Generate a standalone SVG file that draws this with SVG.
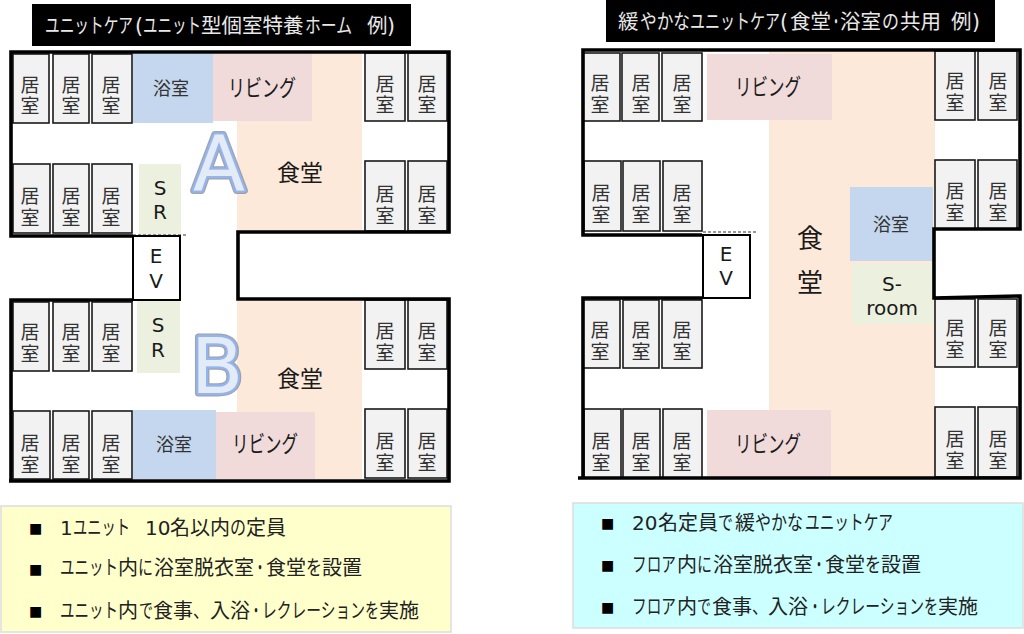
<svg xmlns="http://www.w3.org/2000/svg" width="1024" height="634" viewBox="0 0 1024 634">
<style>
text{font-family:"DejaVu Sans","Noto Sans CJK JP",sans-serif;fill:#1a1a1a;text-anchor:middle}
.room rect{fill:#f2f2f2;stroke:#1a1a1a;stroke-width:1.6}
.room text{font-size:19px;fill:#333}
.title text{fill:#e8e8e8;font-size:20.5px;text-anchor:start}
.bath{fill:#c5d7ee}.living{fill:#f0dada}.dining{fill:#fde9d9}.sr{fill:#ebf1de}
.l21{font-size:23px}.l18{font-size:18px;fill:#333}.l23{font-size:23px}.l20{font-size:20px}.l26{font-size:26px}
.wall{fill:none;stroke:#000;stroke-width:3.6;stroke-linejoin:miter}
.ev{fill:#fff;stroke:#000;stroke-width:2}
.dash{stroke:#333;stroke-width:1.2;stroke-dasharray:3 2;fill:none}
.list text{font-size:20px;text-anchor:start;fill:#222}
.list .b{font-size:14px;fill:#000}
.big{font-family:"DejaVu Sans",sans-serif;font-size:76px;stroke-linejoin:round;paint-order:stroke}
.big1{fill:none;stroke:#8a8f98;stroke-width:7;opacity:.8}
.big2{fill:#e3ebf7;stroke:#93b4ef;stroke-width:4.5}
</style>
<rect width="1024" height="634" fill="#fff"/>

<g id="title-left" class="title"><rect x="32" y="4" width="379" height="42" fill="#000"/><text x="45" y="33"><tspan textLength="88" lengthAdjust="spacingAndGlyphs">ユニットケア</tspan><tspan x="135">(</tspan><tspan x="143" textLength="58" lengthAdjust="spacingAndGlyphs">ユニット</tspan><tspan x="201">型個室特養</tspan><tspan x="305" textLength="47" lengthAdjust="spacingAndGlyphs">ホーム</tspan><tspan x="367">例</tspan><tspan x="387">)</tspan></text></g>
<g id="title-right" class="title"><rect x="606" y="0" width="389" height="42" fill="#000"/><text x="618" y="29">緩<tspan x="640" textLength="50" lengthAdjust="spacingAndGlyphs">やかな</tspan><tspan x="690" textLength="90" lengthAdjust="spacingAndGlyphs">ユニットケア</tspan><tspan x="780">(</tspan><tspan x="790">食堂</tspan><tspan x="831" textLength="10" lengthAdjust="spacingAndGlyphs">・</tspan><tspan x="840">浴室</tspan><tspan x="882" textLength="17" lengthAdjust="spacingAndGlyphs">の</tspan><tspan x="900">共用</tspan><tspan x="951">例</tspan><tspan x="972">)</tspan></text></g>

<!-- left plan zones -->
<g id="left-a-dining"><rect class="dining" x="237" y="54" width="125" height="177"/><text class="l23" x="300" y="181">食堂</text></g>
<g id="left-a-bath"><rect class="bath" x="133" y="54" width="80" height="69"/><text class="l18" x="171" y="95">浴室</text></g>
<g id="left-a-living"><rect class="living" x="213" y="54" width="99" height="67"/><text class="l21" x="262" y="96" textLength="68" lengthAdjust="spacingAndGlyphs">リビング</text></g>
<g id="left-a-sr"><rect class="sr" x="139" y="164" width="42" height="71"/><text class="l20" x="160" y="195">S</text><text class="l20" x="160" y="219">R</text></g>
<g id="left-b-dining"><rect class="dining" x="237" y="301" width="125" height="178"/><text class="l23" x="300" y="387">食堂</text></g>
<g id="left-b-bath"><rect class="bath" x="133" y="410" width="83" height="69"/><text class="l18" x="174" y="451">浴室</text></g>
<g id="left-b-living"><rect class="living" x="216" y="412" width="99" height="67"/><text class="l21" x="265" y="452" textLength="66" lengthAdjust="spacingAndGlyphs">リビング</text></g>
<g id="left-b-sr"><rect class="sr" x="137" y="300" width="43" height="73"/><text class="l20" x="158" y="332">S</text><text class="l20" x="158" y="357">R</text></g>

<!-- right plan zones -->
<g id="right-dining"><rect class="dining" x="769" y="52" width="166" height="425"/><text class="l26" x="810" y="248">食</text><text class="l26" x="810" y="292">堂</text></g>
<g id="right-living-top"><rect class="living" x="707" y="54" width="125" height="66"/><text class="l21" x="768" y="95" textLength="66" lengthAdjust="spacingAndGlyphs">リビング</text></g>
<g id="right-living-bottom"><rect class="living" x="707" y="410" width="124" height="67"/><text class="l21" x="768" y="452" textLength="66" lengthAdjust="spacingAndGlyphs">リビング</text></g>
<g id="right-bath"><rect class="bath" x="850" y="187" width="83" height="74"/><text class="l18" x="891" y="231">浴室</text></g>
<g id="right-sroom"><rect class="sr" x="852" y="264" width="81" height="60"/><text class="l20" x="892" y="291">S-</text><text class="l20" x="892" y="315">room</text></g>

<!-- rooms, left plan -->
<g id="la1" class="room"><rect x="13" y="54" width="36" height="69"/><text x="30" y="92">居<tspan x="30" dy="21">室</tspan></text></g>
<g id="la2" class="room"><rect x="53" y="54" width="36" height="69"/><text x="71" y="92">居<tspan x="71" dy="21">室</tspan></text></g>
<g id="la3" class="room"><rect x="92" y="54" width="40" height="69"/><text x="111" y="92">居<tspan x="111" dy="21">室</tspan></text></g>
<g id="la4" class="room"><rect x="365" y="53" width="40" height="68"/><text x="385" y="91">居<tspan x="385" dy="21">室</tspan></text></g>
<g id="la5" class="room"><rect x="408" y="53" width="39" height="68"/><text x="427" y="91">居<tspan x="427" dy="21">室</tspan></text></g>
<g id="la6" class="room"><rect x="13" y="164" width="37" height="69"/><text x="30" y="203">居<tspan x="30" dy="22">室</tspan></text></g>
<g id="la7" class="room"><rect x="53" y="164" width="36" height="69"/><text x="71" y="203">居<tspan x="71" dy="22">室</tspan></text></g>
<g id="la8" class="room"><rect x="92" y="164" width="40" height="69"/><text x="111" y="203">居<tspan x="111" dy="22">室</tspan></text></g>
<g id="la9" class="room"><rect x="365" y="161" width="40" height="70"/><text x="385" y="201">居<tspan x="385" dy="22">室</tspan></text></g>
<g id="la10" class="room"><rect x="408" y="161" width="39" height="70"/><text x="427" y="201">居<tspan x="427" dy="22">室</tspan></text></g>
<g id="lb1" class="room"><rect x="13" y="302" width="36" height="69"/><text x="30" y="339">居<tspan x="30" dy="22">室</tspan></text></g>
<g id="lb2" class="room"><rect x="53" y="302" width="36" height="69"/><text x="71" y="339">居<tspan x="71" dy="22">室</tspan></text></g>
<g id="lb3" class="room"><rect x="92" y="302" width="40" height="69"/><text x="111" y="339">居<tspan x="111" dy="22">室</tspan></text></g>
<g id="lb4" class="room"><rect x="365" y="300" width="40" height="69"/><text x="385" y="338">居<tspan x="385" dy="22">室</tspan></text></g>
<g id="lb5" class="room"><rect x="408" y="300" width="39" height="69"/><text x="427" y="338">居<tspan x="427" dy="22">室</tspan></text></g>
<g id="lb6" class="room"><rect x="13" y="411" width="37" height="68"/><text x="30" y="450">居<tspan x="30" dy="22">室</tspan></text></g>
<g id="lb7" class="room"><rect x="53" y="411" width="36" height="68"/><text x="71" y="450">居<tspan x="71" dy="22">室</tspan></text></g>
<g id="lb8" class="room"><rect x="92" y="411" width="40" height="68"/><text x="111" y="450">居<tspan x="111" dy="22">室</tspan></text></g>
<g id="lb9" class="room"><rect x="365" y="409" width="40" height="69"/><text x="385" y="448">居<tspan x="385" dy="22">室</tspan></text></g>
<g id="lb10" class="room"><rect x="408" y="409" width="39" height="69"/><text x="427" y="448">居<tspan x="427" dy="22">室</tspan></text></g>

<!-- rooms, right plan -->
<g id="ra1" class="room"><rect x="583" y="53" width="37" height="68"/><text x="600" y="90">居<tspan x="600" dy="22">室</tspan></text></g>
<g id="ra2" class="room"><rect x="622" y="53" width="37" height="68"/><text x="641" y="90">居<tspan x="641" dy="22">室</tspan></text></g>
<g id="ra3" class="room"><rect x="662" y="53" width="40" height="68"/><text x="682" y="90">居<tspan x="682" dy="22">室</tspan></text></g>
<g id="ra4" class="room"><rect x="935" y="51" width="40" height="69"/><text x="955" y="88">居<tspan x="955" dy="22">室</tspan></text></g>
<g id="ra5" class="room"><rect x="978" y="51" width="39" height="69"/><text x="998" y="88">居<tspan x="998" dy="22">室</tspan></text></g>
<g id="ra6" class="room"><rect x="584" y="161" width="37" height="70"/><text x="601" y="200">居<tspan x="601" dy="22">室</tspan></text></g>
<g id="ra7" class="room"><rect x="623" y="161" width="37" height="70"/><text x="641" y="200">居<tspan x="641" dy="22">室</tspan></text></g>
<g id="ra8" class="room"><rect x="663" y="161" width="39" height="70"/><text x="682" y="200">居<tspan x="682" dy="22">室</tspan></text></g>
<g id="ra9" class="room"><rect x="935" y="160" width="40" height="69"/><text x="955" y="198">居<tspan x="955" dy="22">室</tspan></text></g>
<g id="ra10" class="room"><rect x="978" y="160" width="39" height="69"/><text x="998" y="198">居<tspan x="998" dy="22">室</tspan></text></g>
<g id="rb1" class="room"><rect x="583" y="300" width="37" height="68"/><text x="600" y="337">居<tspan x="600" dy="22">室</tspan></text></g>
<g id="rb2" class="room"><rect x="623" y="300" width="36" height="68"/><text x="641" y="337">居<tspan x="641" dy="22">室</tspan></text></g>
<g id="rb3" class="room"><rect x="662" y="300" width="40" height="68"/><text x="682" y="337">居<tspan x="682" dy="22">室</tspan></text></g>
<g id="rb4" class="room"><rect x="935" y="299" width="40" height="68"/><text x="955" y="335">居<tspan x="955" dy="22">室</tspan></text></g>
<g id="rb5" class="room"><rect x="978" y="299" width="39" height="68"/><text x="998" y="335">居<tspan x="998" dy="22">室</tspan></text></g>
<g id="rb6" class="room"><rect x="584" y="409" width="37" height="69"/><text x="601" y="448">居<tspan x="601" dy="22">室</tspan></text></g>
<g id="rb7" class="room"><rect x="623" y="409" width="37" height="69"/><text x="641" y="448">居<tspan x="641" dy="22">室</tspan></text></g>
<g id="rb8" class="room"><rect x="663" y="409" width="39" height="69"/><text x="682" y="448">居<tspan x="682" dy="22">室</tspan></text></g>
<g id="rb9" class="room"><rect x="935" y="407" width="40" height="70"/><text x="955" y="446">居<tspan x="955" dy="22">室</tspan></text></g>
<g id="rb10" class="room"><rect x="978" y="407" width="39" height="70"/><text x="998" y="446">居<tspan x="998" dy="22">室</tspan></text></g>

<!-- walls -->
<g id="walls">
<path class="wall" d="M133 236H11V52H449V232H238V299H449V481H9M133 300H11V481"/>
<path class="wall" d="M702 235H583V50H1020V229H934V298L1020 296V478H578M702 298H583V478"/>
<path class="dash" d="M133 235H186M703 232H757"/>
</g>

<g id="left-ev"><rect class="ev" x="133" y="236" width="47" height="64"/><text class="l20" x="156" y="263">E</text><text class="l20" x="156" y="288">V</text></g>
<g id="right-ev"><rect class="ev" x="703" y="235" width="47" height="63"/><text class="l20" x="726" y="261">E</text><text class="l20" x="726" y="285">V</text></g>

<g id="unit-a"><text class="big big1" x="219" y="189.5">A</text><text class="big big2" x="219" y="189.5">A</text></g>
<g id="unit-b"><text class="big big1" x="217" y="392.5">B</text><text class="big big2" x="217" y="392.5">B</text></g>

<g id="list-left" class="list">
<rect x="1" y="506" width="450" height="126" fill="#ffffcc" stroke="#ddd" stroke-width="1.5"/>
<text class="b" x="29" y="533">■</text><text x="60" y="535">1<tspan x="73" textLength="57" lengthAdjust="spacingAndGlyphs">ユニット</tspan><tspan x="145">10</tspan><tspan x="170">名以内</tspan><tspan x="230" textLength="16" lengthAdjust="spacingAndGlyphs">の</tspan><tspan x="246">定員</tspan></text>
<text class="b" x="29" y="574">■</text><text x="60" y="575"><tspan textLength="58" lengthAdjust="spacingAndGlyphs">ユニット</tspan><tspan x="118">内</tspan><tspan x="138" textLength="15" lengthAdjust="spacingAndGlyphs">に</tspan><tspan x="154">浴室脱衣室</tspan><tspan x="254" textLength="12" lengthAdjust="spacingAndGlyphs">・</tspan><tspan x="266">食堂</tspan><tspan x="306" textLength="16" lengthAdjust="spacingAndGlyphs">を</tspan><tspan x="322">設置</tspan></text>
<text class="b" x="29" y="616">■</text><text x="60" y="618"><tspan textLength="58" lengthAdjust="spacingAndGlyphs">ユニット</tspan><tspan x="118">内</tspan><tspan x="139" textLength="14" lengthAdjust="spacingAndGlyphs">で</tspan><tspan x="153">食事</tspan><tspan x="193" textLength="16" lengthAdjust="spacingAndGlyphs">、</tspan><tspan x="210">入浴</tspan><tspan x="250" textLength="12" lengthAdjust="spacingAndGlyphs">・</tspan><tspan x="262" textLength="103" lengthAdjust="spacingAndGlyphs">レクレーション</tspan><tspan x="365" textLength="14" lengthAdjust="spacingAndGlyphs">を</tspan><tspan x="379">実施</tspan></text>
</g>
<g id="list-right" class="list">
<rect x="573" y="503" width="450" height="125" fill="#ccffff" stroke="#ddd" stroke-width="1.5"/>
<text class="b" x="601" y="528">■</text><text x="632" y="530">20<tspan x="658">名定員</tspan><tspan x="718" textLength="15" lengthAdjust="spacingAndGlyphs">で</tspan><tspan x="735">緩</tspan><tspan x="755" textLength="48" lengthAdjust="spacingAndGlyphs">やかな</tspan><tspan x="805" textLength="88" lengthAdjust="spacingAndGlyphs">ユニットケア</tspan></text>
<text class="b" x="601" y="570">■</text><text x="632" y="572"><tspan textLength="44" lengthAdjust="spacingAndGlyphs">フロア</tspan><tspan x="677">内</tspan><tspan x="697" textLength="15" lengthAdjust="spacingAndGlyphs">に</tspan><tspan x="713">浴室脱衣室</tspan><tspan x="813" textLength="12" lengthAdjust="spacingAndGlyphs">・</tspan><tspan x="825">食堂</tspan><tspan x="865" textLength="16" lengthAdjust="spacingAndGlyphs">を</tspan><tspan x="881">設置</tspan></text>
<text class="b" x="601" y="612">■</text><text x="632" y="614"><tspan textLength="44" lengthAdjust="spacingAndGlyphs">フロア</tspan><tspan x="677">内</tspan><tspan x="697" textLength="14" lengthAdjust="spacingAndGlyphs">で</tspan><tspan x="712">食事</tspan><tspan x="752" textLength="16" lengthAdjust="spacingAndGlyphs">、</tspan><tspan x="768">入浴</tspan><tspan x="809" textLength="12" lengthAdjust="spacingAndGlyphs">・</tspan><tspan x="821" textLength="103" lengthAdjust="spacingAndGlyphs">レクレーション</tspan><tspan x="924" textLength="14" lengthAdjust="spacingAndGlyphs">を</tspan><tspan x="938">実施</tspan></text>
</g>
</svg>
